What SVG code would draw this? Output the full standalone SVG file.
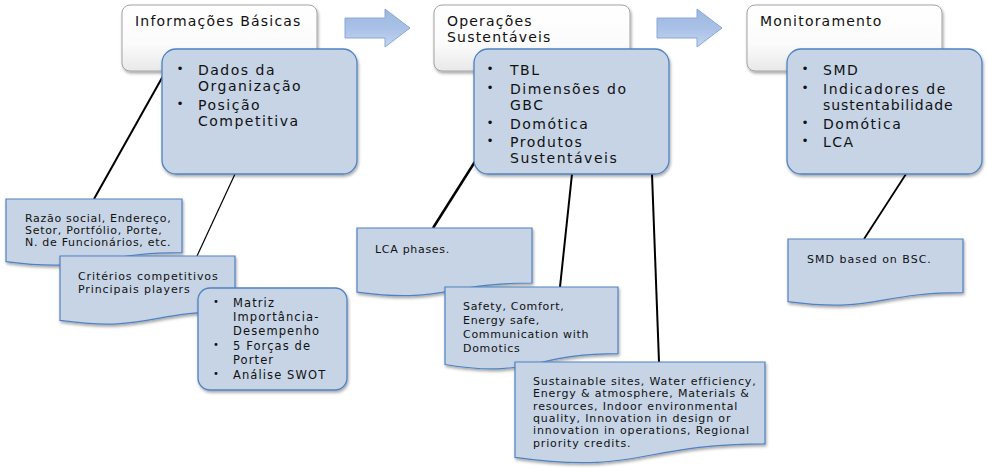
<svg xmlns="http://www.w3.org/2000/svg" width="988" height="468" viewBox="0 0 988 468">
<defs>
  <linearGradient id="hdrGrad" x1="0" y1="0" x2="0" y2="1">
    <stop offset="0" stop-color="#ffffff"/>
    <stop offset="0.6" stop-color="#fbfbfb"/>
    <stop offset="1" stop-color="#e8e8e8"/>
  </linearGradient>
  <linearGradient id="arrGrad" x1="0" y1="0" x2="0" y2="1">
    <stop offset="0" stop-color="#9db7df"/>
    <stop offset="0.5" stop-color="#a9c1e6"/>
    <stop offset="1" stop-color="#c4d5ef"/>
  </linearGradient>
  <filter id="sh" x="-10%" y="-10%" width="130%" height="140%">
    <feDropShadow dx="1" dy="2" stdDeviation="1.5" flood-color="#000" flood-opacity="0.35"/>
  </filter>
</defs>
<style>
  .hdr { fill: url(#hdrGrad); stroke: #a3a3a3; stroke-width: 1; }
  .bx { fill: #c6d4e5; stroke: #4f82c2; stroke-width: 1.3; }
  .doc { fill: #c6d4e5; stroke: #4f82c2; stroke-width: 1.2; }
  .arr { fill: url(#arrGrad); stroke: #8ba8d6; stroke-width: 1; }
  text { font-family: "DejaVu Sans", Verdana, sans-serif; fill: #111; }
  .ht { font-size: 14px; letter-spacing: 1.2px; }
  .bt { font-size: 14px; letter-spacing: 1.5px; }
  .bl { font-size: 12px; text-anchor: middle; }
  .st { font-size: 11px; letter-spacing: 0.7px; }
  .sb { font-size: 11.5px; letter-spacing: 1.1px; }
  .sbl { font-size: 10px; text-anchor: middle; }
  .conn line { stroke: #000; }
</style>

<!-- arrows -->
<g id="arrow1"><polygon class="arr" points="345,18 385,18 385,9 410,28 385,47 385,38 345,38"/></g>
<g id="arrow2"><polygon class="arr" points="657,18 697,18 697,9 722,28 697,47 697,38 657,38"/></g>

<!-- header boxes -->
<g id="hdr1"><rect class="hdr" filter="url(#sh)" x="122" y="5" width="195" height="66" rx="8"/>
  <text class="ht" x="135" y="26">Informações Básicas</text></g>
<g id="hdr2"><rect class="hdr" filter="url(#sh)" x="434" y="5" width="196" height="66" rx="8"/>
  <text class="ht" x="447" y="26">Operações</text>
  <text class="ht" x="447" y="42">Sustentáveis</text></g>
<g id="hdr3"><rect class="hdr" filter="url(#sh)" x="747" y="5" width="195" height="66" rx="8"/>
  <text class="ht" x="760" y="26">Monitoramento</text></g>

<!-- connectors -->
<g id="connectors" class="conn">
  <line x1="163" y1="76" x2="94" y2="199" stroke-width="2"/>
  <line x1="235" y1="174" x2="197" y2="256" stroke-width="1.2"/>
  <line x1="476" y1="160" x2="433" y2="228" stroke-width="2.5"/>
  <line x1="572" y1="174" x2="560" y2="287" stroke-width="2"/>
  <line x1="652" y1="174" x2="659" y2="362" stroke-width="2"/>
  <line x1="906" y1="174" x2="864" y2="239" stroke-width="1.8"/>
</g>

<!-- bullet boxes -->
<g id="box1"><rect class="bx" filter="url(#sh)" x="162" y="49" width="195" height="125" rx="14"/>
  <text class="bl" x="180" y="73">•</text>
  <text class="bt" x="198" y="75">Dados da</text>
  <text class="bt" x="198" y="91">Organização</text>
  <text class="bl" x="180" y="108">•</text>
  <text class="bt" x="198" y="110">Posição</text>
  <text class="bt" x="198" y="126">Competitiva</text></g>

<g id="box2"><rect class="bx" filter="url(#sh)" x="474" y="49" width="195" height="125" rx="14"/>
  <text class="bl" x="490" y="73">•</text>
  <text class="bt" x="510" y="75">TBL</text>
  <text class="bl" x="490" y="92">•</text>
  <text class="bt" x="510" y="94">Dimensões do</text>
  <text class="bt" x="510" y="110">GBC</text>
  <text class="bl" x="490" y="127">•</text>
  <text class="bt" x="510" y="129">Domótica</text>
  <text class="bl" x="490" y="145">•</text>
  <text class="bt" x="510" y="147">Produtos</text>
  <text class="bt" x="510" y="163">Sustentáveis</text></g>

<g id="box3"><rect class="bx" filter="url(#sh)" x="787" y="49" width="195" height="125" rx="14"/>
  <text class="bl" x="805" y="73">•</text>
  <text class="bt" x="823" y="75">SMD</text>
  <text class="bl" x="805" y="92">•</text>
  <text class="bt" x="823" y="94">Indicadores de</text>
  <text class="bt" x="823" y="110" style="letter-spacing:0.9px">sustentabilidade</text>
  <text class="bl" x="805" y="127">•</text>
  <text class="bt" x="823" y="129">Domótica</text>
  <text class="bl" x="805" y="145">•</text>
  <text class="bt" x="823" y="147">LCA</text></g>

<!-- documents -->
<g id="doc1"><path class="doc" filter="url(#sh)" d="M6,199 H182 V252.7 C94,252.7 94,273.2 6,261.6 Z"/>
  <text class="st" x="25" y="222">Razão social, Endereço,</text>
  <text class="st" x="25" y="234">Setor, Portfólio, Porte,</text>
  <text class="st" x="25" y="246">N. de Funcionários, etc.</text></g>

<g id="doc2"><path class="doc" filter="url(#sh)" d="M60,256 H235 V311.3 C147.5,311.3 147.5,332.4 60,320.4 Z"/>
  <text class="st" x="78" y="280" style="letter-spacing:0.9px">Critérios competitivos</text>
  <text class="st" x="78" y="293" style="letter-spacing:0.9px">Principais players</text></g>

<g id="box4"><rect class="bx" filter="url(#sh)" x="198" y="288" width="149" height="102" rx="12"/>
  <text class="sbl" x="216" y="305">•</text>
  <text class="sb" x="233" y="307">Matriz</text>
  <text class="sb" x="233" y="321">Importância-</text>
  <text class="sb" x="233" y="335">Desempenho</text>
  <text class="sbl" x="216" y="348">•</text>
  <text class="sb" x="233" y="350">5 Forças de</text>
  <text class="sb" x="233" y="364">Porter</text>
  <text class="sbl" x="216" y="377">•</text>
  <text class="sb" x="233" y="379">Análise SWOT</text></g>

<g id="doc3"><path class="doc" filter="url(#sh)" d="M357,228 H532 V283 C444.5,283 444.5,303.9 357,292.1 Z"/>
  <text class="st" x="375" y="253">LCA phases.</text></g>

<g id="doc4"><path class="doc" filter="url(#sh)" d="M445,287 H618 V353.6 C531.5,353.6 531.5,378.9 445,364.5 Z"/>
  <text class="st" x="463" y="310">Safety, Comfort,</text>
  <text class="st" x="463" y="324">Energy safe,</text>
  <text class="st" x="463" y="338">Communication with</text>
  <text class="st" x="463" y="352">Domotics</text></g>

<g id="doc5"><path class="doc" filter="url(#sh)" d="M515,362 H765 V443.8 C640,443.8 640,474.9 515,457.3 Z"/>
  <text class="st" x="533" y="385" style="letter-spacing:0.85px">Sustainable sites, Water efficiency,</text>
  <text class="st" x="533" y="397" style="letter-spacing:0.85px">Energy &amp; atmosphere, Materials &amp;</text>
  <text class="st" x="533" y="410" style="letter-spacing:0.85px">resources, Indoor environmental</text>
  <text class="st" x="533" y="422" style="letter-spacing:0.85px">quality, Innovation in design or</text>
  <text class="st" x="533" y="434" style="letter-spacing:0.85px">innovation in operations, Regional</text>
  <text class="st" x="533" y="447" style="letter-spacing:0.85px">priority credits.</text></g>

<g id="doc6"><path class="doc" filter="url(#sh)" d="M788,239 H963 V292.7 C875.5,292.7 875.5,313.2 788,301.6 Z"/>
  <text class="st" x="807" y="263" style="letter-spacing:1px">SMD based on BSC.</text></g>
</svg>
